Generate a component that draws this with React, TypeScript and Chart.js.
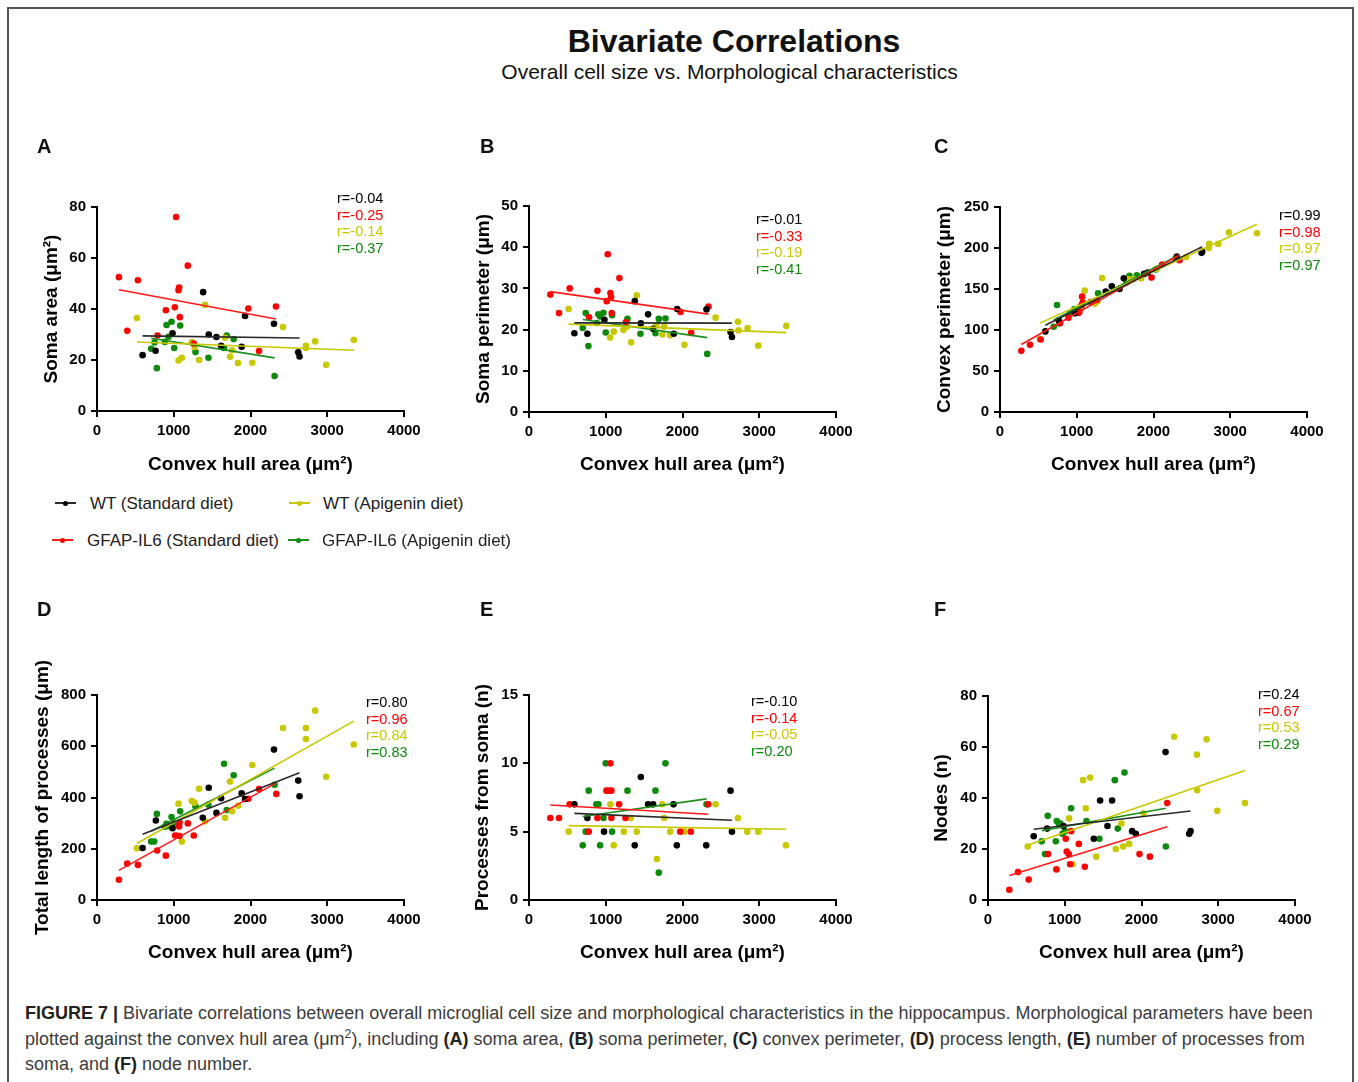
import React, { useEffect, useRef } from "react";
import { Chart, registerables } from "chart.js";

Chart.register(...registerables);

type Pt = [number, number];

const FONT = "'Liberation Sans', Arial, Helvetica, sans-serif";

// Group order: WT standard, GFAP-IL6 standard, WT apigenin, GFAP-IL6 apigenin
const GROUPS = ["WT (Standard diet)", "GFAP-IL6 (Standard diet)", "WT (Apigenin diet)", "GFAP-IL6 (Apigenin diet)"];
const COLORS = ["#000000", "#ff0000", "#c8c800", "#0b8a0b"];
const FIT_COLORS = ["#2a2a2a", "#ff1a1a", "#c8c800", "#1b8e1b"];

const X_LABEL = "Convex hull area (μm²)";
const X_TICKS = [0, 1000, 2000, 3000, 4000];

// ---- A: Soma area ----
const A_Y_LABEL = "Soma area (μm²)";
const A_Y_TICKS = [0, 20, 40, 60, 80];
const A_R = ["r=-0.04", "r=-0.25", "r=-0.14", "r=-0.37"];
const A_WT: Pt[] = [[1383, 46.6], [1929, 37.3], [2306, 34.2], [984, 30.5], [1456, 30.0], [1556, 29.0], [1617, 25.6], [1885, 25.2], [594, 21.9], [763, 23.6], [2622, 23.0], [2639, 21.4]];
const A_IL6: Pt[] = [[1031, 76.1], [286, 52.5], [533, 51.3], [1183, 57.0], [1070, 48.4], [1062, 47.4], [897, 39.5], [1014, 40.7], [1079, 36.8], [394, 31.5], [789, 29.6], [1261, 26.5], [1972, 40.2], [2332, 41.0], [2111, 23.5]];
const A_WTA: Pt[] = [[1409, 41.6], [520, 36.5], [2423, 32.9], [1669, 28.7], [1235, 27.0], [1270, 25.1], [1760, 23.8], [1734, 21.3], [2722, 25.6], [2722, 24.7], [2843, 27.3], [3346, 27.9], [2986, 18.1], [1062, 19.8], [1105, 20.9], [1331, 20.0], [1838, 18.8], [2024, 18.9]];
const A_IL6A: Pt[] = [[971, 35.0], [906, 33.7], [1084, 33.5], [932, 29.1], [1690, 29.6], [1781, 28.2], [750, 26.9], [884, 27.1], [706, 24.4], [1006, 24.7], [1283, 23.1], [1452, 20.9], [1656, 24.7], [780, 16.8], [2314, 13.7]];

// ---- B: Soma perimeter ----
const B_Y_LABEL = "Soma perimeter (μm)";
const B_Y_TICKS = [0, 10, 20, 30, 40, 50];
const B_R = ["r=-0.01", "r=-0.33", "r=-0.19", "r=-0.41"];
const B_WT: Pt[] = [[1378, 26.9], [1931, 25.0], [2313, 24.9], [1552, 23.7], [983, 22.4], [1457, 21.5], [1617, 20.2], [1887, 19.0], [591, 19.1], [761, 19.0], [2626, 19.4], [2644, 18.2]];
const B_IL6: Pt[] = [[1026, 38.3], [1178, 32.5], [530, 30.0], [891, 29.4], [278, 28.5], [1061, 28.9], [1070, 27.9], [1013, 26.9], [391, 24.0], [1078, 24.0], [783, 23.0], [1261, 21.8], [1974, 24.3], [2339, 25.6], [2113, 19.2]];
const B_WTA: Pt[] = [[1404, 28.3], [517, 25.0], [2431, 22.9], [2722, 21.9], [1661, 21.1], [1761, 20.7], [1274, 20.7], [1104, 19.5], [1230, 19.9], [1057, 18.1], [1330, 16.9], [1739, 18.8], [1839, 18.6], [2026, 16.3], [2731, 19.8], [2848, 20.4], [2987, 16.1], [3352, 20.9]];
const B_IL6A: Pt[] = [[739, 24.0], [904, 23.7], [926, 23.2], [970, 24.1], [1083, 23.5], [1283, 22.6], [1691, 22.6], [1778, 22.7], [883, 21.6], [700, 20.4], [1000, 19.3], [1452, 19.0], [1648, 19.1], [774, 16.0], [2322, 14.1]];

// ---- C: Convex perimeter ----
const C_Y_LABEL = "Convex perimeter (μm)";
const C_Y_TICKS = [0, 50, 100, 150, 200, 250];
const C_R = ["r=0.99", "r=0.98", "r=0.97", "r=0.97"];
const C_WT: Pt[] = [[591, 98.3], [765, 111.7], [978, 120.3], [1378, 146.8], [1457, 153.3], [1557, 150.1], [1613, 163.1], [1878, 168.4], [1926, 170.1], [2304, 189.6], [2626, 194.1], [2635, 195.7]];
const C_IL6: Pt[] = [[278, 74.6], [391, 82.0], [530, 88.5], [783, 108.5], [891, 115.0], [1022, 120.7], [1035, 122.3], [1070, 140.7], [1078, 133.4], [1065, 130.5], [1183, 134.2], [1261, 136.6], [1974, 163.9], [2113, 179.8], [2339, 185.1]];
const C_WTA: Pt[] = [[520, 89], [1043, 128.5], [1104, 148], [1235, 132], [1270, 135], [1330, 163.5], [1665, 162], [1739, 162], [1839, 163], [2043, 174.5], [2426, 189], [2722, 200], [2726, 205], [2844, 205], [2983, 219], [3348, 218]];
const C_IL6A: Pt[] = [[743, 130.5], [700, 104], [778, 108], [913, 120], [970, 125.6], [1052, 126.4], [1278, 144.8], [1648, 157.8], [1687, 166], [1783, 166.8], [2030, 173.7], [2290, 187]];

// ---- D: Total length of processes ----
const D_Y_LABEL = "Total length of processes (μm)";
const D_Y_TICKS = [0, 200, 400, 600, 800];
const D_R = ["r=0.80", "r=0.96", "r=0.84", "r=0.83"];
const D_WT: Pt[] = [[594, 203], [767, 310], [984, 280], [1378, 321], [1456, 438], [1556, 340], [1617, 397], [1885, 416], [1929, 394], [2306, 587], [2622, 466], [2639, 405]];
const D_IL6: Pt[] = [[286, 79], [394, 142], [533, 137], [784, 193], [897, 173], [1018, 252], [1049, 251], [1075, 250], [1070, 287], [1075, 302], [1183, 299], [1261, 252], [1972, 395], [2111, 433], [2336, 414]];
const D_WTA: Pt[] = [[520, 202], [1105, 228], [1062, 376], [1235, 386], [1270, 380], [1331, 434], [1409, 307], [1669, 321], [1760, 346], [1734, 462], [1838, 368], [2024, 527], [2423, 671], [2722, 671], [2722, 628], [2843, 739], [2986, 481], [3346, 607]];
const D_IL6A: Pt[] = [[706, 228], [745, 228], [780, 336], [884, 286], [906, 297], [932, 289], [971, 324], [1006, 299], [1084, 346], [1283, 366], [1452, 372], [1656, 532], [1690, 351], [1781, 487], [2314, 450]];

// ---- E: Processes from soma ----
const E_Y_LABEL = "Processes from soma (n)";
const E_Y_TICKS = [0, 5, 10, 15];
const E_R = ["r=-0.10", "r=-0.14", "r=-0.05", "r=0.20"];
const E_WT: Pt[] = [[591, 7], [761, 6], [978, 5], [1457, 9], [1378, 4], [1552, 7], [1617, 7], [1883, 7], [1926, 4], [2309, 4], [2626, 8], [2644, 5]];
const E_IL6: Pt[] = [[278, 6], [391, 6], [530, 7], [778, 5], [891, 6], [1061, 10], [1009, 8], [1044, 8], [1074, 8], [1074, 6], [1174, 7], [1257, 6], [1970, 5], [2109, 5], [2335, 7]];
const E_WTA: Pt[] = [[517, 5], [1061, 7], [1104, 4], [1235, 5], [1326, 6], [1404, 5], [1665, 3], [1735, 7], [1761, 6], [1839, 5], [2026, 5], [2431, 7], [2722, 6], [2844, 5], [2987, 5], [3348, 4]];
const E_IL6A: Pt[] = [[700, 4], [739, 5], [778, 8], [878, 7], [904, 7], [926, 4], [970, 6], [1000, 10], [1083, 5], [1283, 8], [1648, 8], [1691, 2], [1778, 10], [2313, 7]];

// ---- F: Nodes ----
const F_Y_LABEL = "Nodes (n)";
const F_Y_TICKS = [0, 20, 40, 60, 80];
const F_R = ["r=0.24", "r=0.67", "r=0.53", "r=0.29"];
const F_WT: Pt[] = [[596, 25], [770, 28], [983, 29], [1378, 24], [1461, 39], [1557, 29], [1617, 39], [1878, 27], [1926, 26], [2313, 58], [2622, 26], [2639, 27]];
const F_IL6: Pt[] = [[278, 4], [391, 11], [530, 8], [783, 18], [891, 12], [1013, 24], [1026, 19], [1052, 18], [1070, 14], [1083, 27], [1183, 22], [1261, 13], [1974, 18], [2109, 17], [2335, 38]];
const F_WTA: Pt[] = [[517, 21], [1057, 32], [1104, 14], [1239, 47], [1330, 48], [1274, 36], [1409, 17], [1665, 20], [1739, 30], [1761, 21], [1839, 22], [2026, 34], [2426, 64], [2722, 57], [2726, 43], [2848, 63], [2987, 35], [3348, 38]];
const F_IL6A: Pt[] = [[700, 23], [743, 18], [778, 33], [883, 23], [896, 31], [922, 30], [943, 30], [970, 26], [1004, 27], [1083, 36], [1283, 31], [1452, 24], [1652, 47], [1691, 28], [1778, 50], [2317, 21]];

// ---- layout (page pixel geometry, not data) ----
type Geo = { L: number; R: number; T: number; B: number; yTitleX: number; xTitleY: number; letterX: number; letterY: number; rX: number; rY: number };

const PANELS = [
  { letter: "A", yLabel: A_Y_LABEL, yTicks: A_Y_TICKS, r: A_R, series: [A_WT, A_IL6, A_WTA, A_IL6A],
    geo: { L: 97, R: 404, T: 207, B: 411, yTitleX: 51, xTitleY: 464, letterX: 37, letterY: 146, rX: 337, rY: 198 } },
  { letter: "B", yLabel: B_Y_LABEL, yTicks: B_Y_TICKS, r: B_R, series: [B_WT, B_IL6, B_WTA, B_IL6A],
    geo: { L: 529, R: 836, T: 206, B: 412, yTitleX: 483, xTitleY: 464, letterX: 480, letterY: 146, rX: 756, rY: 219 } },
  { letter: "C", yLabel: C_Y_LABEL, yTicks: C_Y_TICKS, r: C_R, series: [C_WT, C_IL6, C_WTA, C_IL6A],
    geo: { L: 1000, R: 1307, T: 207, B: 412, yTitleX: 944, xTitleY: 464, letterX: 934, letterY: 146, rX: 1279, rY: 215 } },
  { letter: "D", yLabel: D_Y_LABEL, yTicks: D_Y_TICKS, r: D_R, series: [D_WT, D_IL6, D_WTA, D_IL6A],
    geo: { L: 97, R: 404, T: 695, B: 900, yTitleX: 42, xTitleY: 952, letterX: 37, letterY: 609, rX: 366, rY: 702 } },
  { letter: "E", yLabel: E_Y_LABEL, yTicks: E_Y_TICKS, r: E_R, series: [E_WT, E_IL6, E_WTA, E_IL6A],
    geo: { L: 529, R: 836, T: 695, B: 900, yTitleX: 482, xTitleY: 952, letterX: 480, letterY: 609, rX: 751, rY: 701 } },
  { letter: "F", yLabel: F_Y_LABEL, yTicks: F_Y_TICKS, r: F_R, series: [F_WT, F_IL6, F_WTA, F_IL6A],
    geo: { L: 988, R: 1295, T: 696, B: 900, yTitleX: 941, xTitleY: 952, letterX: 934, letterY: 609, rX: 1258, rY: 694 } },
];

function linFit(pts: Pt[]) {
  const n = pts.length;
  let sx = 0, sy = 0, sxx = 0, sxy = 0, mn = Infinity, mx = -Infinity;
  for (const [x, y] of pts) {
    sx += x; sy += y; sxx += x * x; sxy += x * y;
    mn = Math.min(mn, x); mx = Math.max(mx, x);
  }
  const b = (n * sxy - sx * sy) / (n * sxx - sx * sx);
  const a = (sy - b * sx) / n;
  return [{ x: mn, y: a + b * mn }, { x: mx, y: a + b * mx }];
}

const TITLE_SIZE = 19;
const TITLE_LH = 1;
const PAD_TOP = 60;

function ScatterPanel({ panel }: { panel: (typeof PANELS)[number] }) {
  const ref = useRef<HTMLCanvasElement>(null);
  const g: Geo = panel.geo;
  const half = (TITLE_SIZE * TITLE_LH) / 2;
  const cLeft = Math.round(g.yTitleX - half);
  const cTop = g.T - PAD_TOP;
  const cRight = g.R + 30;
  const cBottom = Math.round(g.xTitleY + half);
  const w = cRight - cLeft;
  const h = cBottom - cTop;
  const yW = g.L - cLeft;
  const xH = cBottom - g.B;

  useEffect(() => {
    if (!ref.current) return;
    const yT = panel.yTicks;
    const tickFont = { family: FONT, size: 15, weight: "bold" as const };
    const titleFont = { family: FONT, size: TITLE_SIZE, weight: "bold" as const, lineHeight: TITLE_LH };
    const gridOpts = { display: true, drawOnChartArea: false, drawTicks: true, tickLength: 6, color: "#000", lineWidth: 2 };
    const chart = new Chart(ref.current, {
      type: "scatter",
      data: {
        datasets: [
          ...panel.series.map((pts, i) => ({
            label: GROUPS[i],
            data: pts.map(([x, y]) => ({ x, y })),
            backgroundColor: COLORS[i],
            borderWidth: 0,
            pointRadius: 3.3,
            pointHoverRadius: 3.3,
            order: 2,
          })),
          ...panel.series.map((pts, i) => ({
            label: GROUPS[i] + " fit",
            data: linFit(pts),
            showLine: true,
            borderColor: FIT_COLORS[i],
            backgroundColor: FIT_COLORS[i],
            borderWidth: 1.6,
            pointRadius: 0,
            pointHoverRadius: 0,
            fill: false,
            order: 1,
          })),
        ],
      },
      options: {
        responsive: false,
        animation: false,
        devicePixelRatio: 1,
        events: [],
        layout: { padding: { left: 0, top: PAD_TOP, right: 30, bottom: 0 } },
        plugins: { legend: { display: false }, tooltip: { enabled: false }, title: { display: false } },
        scales: {
          x: {
            type: "linear",
            min: X_TICKS[0],
            max: X_TICKS[X_TICKS.length - 1],
            afterBuildTicks: (s: any) => { s.ticks = X_TICKS.map((v) => ({ value: v })); },
            ticks: { autoSkip: false, maxRotation: 0, minRotation: 0, color: "#000", font: tickFont, padding: 5, callback: (v: any) => String(v) },
            grid: gridOpts,
            border: { display: true, color: "#000", width: 2 },
            title: { display: true, text: X_LABEL, color: "#000", font: titleFont, padding: 0 },
            afterFit: (s: any) => { s.height = xH; },
          },
          y: {
            type: "linear",
            min: yT[0],
            max: yT[yT.length - 1],
            afterBuildTicks: (s: any) => { s.ticks = yT.map((v) => ({ value: v })); },
            ticks: { autoSkip: false, color: "#000", font: tickFont, padding: 5, callback: (v: any) => String(v) },
            grid: gridOpts,
            border: { display: true, color: "#000", width: 2 },
            title: { display: true, text: panel.yLabel, color: "#000", font: titleFont, padding: 0 },
            afterFit: (s: any) => { s.width = yW; },
          },
        },
      } as any,
    });
    return () => chart.destroy();
  }, []);

  return (
    <>
      <canvas ref={ref} width={w} height={h} style={{ position: "absolute", left: cLeft, top: cTop, width: w, height: h }} />
      <div style={{ position: "absolute", left: g.letterX, top: g.letterY, transform: "translateY(-50%)", font: `bold 20px ${FONT}`, lineHeight: 1, color: "#111" }}>
        {panel.letter}
      </div>
      {panel.r.map((t, i) => (
        <div key={i} style={{ position: "absolute", left: g.rX, top: g.rY + i * 16.5, transform: "translateY(-50%)", font: `14.5px ${FONT}`, lineHeight: 1, color: COLORS[i], whiteSpace: "nowrap" }}>
          {t}
        </div>
      ))}
    </>
  );
}

const LEGEND_POS = [
  { lineX: 55, textX: 90, y: 503 },
  { lineX: 52, textX: 87, y: 540 },
  { lineX: 289, textX: 323, y: 503 },
  { lineX: 288, textX: 322, y: 540 },
];

function Legend() {
  return (
    <>
      {GROUPS.map((g, i) => {
        const p = LEGEND_POS[i];
        return (
          <React.Fragment key={i}>
            <div style={{ position: "absolute", left: p.lineX, top: p.y - 0.75, width: 21, height: 1.5, background: FIT_COLORS[i] }} />
            <div style={{ position: "absolute", left: p.lineX + 10.5 - 2.5, top: p.y - 2.5, width: 5, height: 5, borderRadius: "50%", background: COLORS[i] }} />
            <div style={{ position: "absolute", left: p.textX, top: p.y, transform: "translateY(-50%)", font: `17px ${FONT}`, lineHeight: 1, color: "#222", whiteSpace: "nowrap" }}>
              {g}
            </div>
          </React.Fragment>
        );
      })}
    </>
  );
}

const supStyle: React.CSSProperties = { fontSize: "0.68em", verticalAlign: "super", lineHeight: 0 };

export default function App() {
  return (
    <div style={{ position: "absolute", left: 0, top: 0, width: 1358, height: 1082, overflow: "hidden", background: "#fff", fontFamily: FONT }}>
      <div style={{ position: "absolute", left: 7, top: 7, width: 1347, height: 1200, borderTop: "2px solid #555", borderLeft: "2px solid #555", borderRight: "2px solid #555", boxSizing: "border-box" }} />
      <div style={{ position: "absolute", left: 734, top: 41, transform: "translate(-50%, -50%)", font: `bold 32px ${FONT}`, lineHeight: 1, color: "#111", whiteSpace: "nowrap" }}>
        Bivariate Correlations
      </div>
      <div style={{ position: "absolute", left: 729.5, top: 71, transform: "translate(-50%, -50%)", font: `21px ${FONT}`, lineHeight: 1, color: "#111", whiteSpace: "nowrap" }}>
        Overall cell size vs. Morphological characteristics
      </div>
      {PANELS.map((p) => (
        <ScatterPanel key={p.letter} panel={p} />
      ))}
      <Legend />
      <div style={{ position: "absolute", left: 25, top: 1001, font: `18px ${FONT}`, lineHeight: "25.5px", color: "#3c3c3c", whiteSpace: "nowrap" }}>
        <b style={{ color: "#222" }}>FIGURE 7 |</b> Bivariate correlations between overall microglial cell size and morphological characteristics in the hippocampus. Morphological parameters have been
        <br />
        plotted against the convex hull area (μm<sup style={supStyle}>2</sup>), including <b style={{ color: "#222" }}>(A)</b> soma area, <b style={{ color: "#222" }}>(B)</b> soma perimeter, <b style={{ color: "#222" }}>(C)</b> convex perimeter, <b style={{ color: "#222" }}>(D)</b> process length, <b style={{ color: "#222" }}>(E)</b> number of processes from
        <br />
        soma, and <b style={{ color: "#222" }}>(F)</b> node number.
      </div>
    </div>
  );
}
